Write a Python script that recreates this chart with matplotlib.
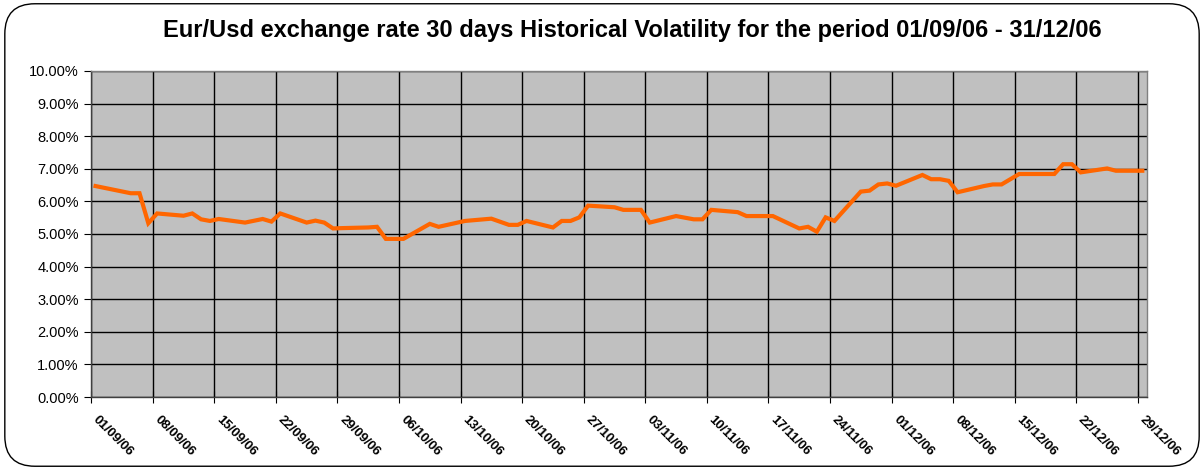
import matplotlib
matplotlib.use("Agg")
import matplotlib.pyplot as plt
import matplotlib.dates as mdates
import matplotlib.transforms as mtransforms
from matplotlib.patches import FancyBboxPatch
from matplotlib.ticker import FuncFormatter, MultipleLocator
from datetime import datetime, timedelta

plt.rcParams['font.family'] = ['Liberation Sans', 'DejaVu Sans']

dates = ["01/09/06", "05/09/06", "06/09/06", "07/09/06", "08/09/06", "11/09/06", "12/09/06",
         "13/09/06", "14/09/06", "15/09/06", "18/09/06", "20/09/06", "21/09/06", "22/09/06",
         "25/09/06", "26/09/06", "27/09/06", "28/09/06", "29/09/06", "02/10/06", "03/10/06",
         "04/10/06", "06/10/06", "09/10/06", "10/10/06", "13/10/06", "16/10/06", "18/10/06",
         "19/10/06", "20/10/06", "23/10/06", "24/10/06", "25/10/06", "26/10/06", "27/10/06",
         "30/10/06", "31/10/06", "02/11/06", "03/11/06", "06/11/06", "08/11/06", "09/11/06",
         "10/11/06", "13/11/06", "14/11/06", "17/11/06", "20/11/06", "21/11/06", "22/11/06",
         "23/11/06", "24/11/06", "27/11/06", "28/11/06", "29/11/06", "30/11/06", "01/12/06",
         "04/12/06", "05/12/06", "06/12/06", "07/12/06", "08/12/06", "11/12/06", "12/12/06",
         "13/12/06", "15/12/06", "19/12/06", "20/12/06", "21/12/06", "22/12/06", "25/12/06",
         "26/12/06", "29/12/06"]
volatility = [6.47, 6.25, 6.25, 5.33, 5.63, 5.56, 5.63,
              5.45, 5.40, 5.46, 5.35, 5.46, 5.38, 5.63,
              5.35, 5.41, 5.35, 5.17, 5.18, 5.20, 5.22,
              4.85, 4.85, 5.31, 5.22, 5.40, 5.47, 5.28,
              5.28, 5.40, 5.20, 5.40, 5.40, 5.51, 5.87,
              5.82, 5.74, 5.74, 5.35, 5.55, 5.45, 5.45,
              5.74, 5.67, 5.55, 5.55, 5.17, 5.22, 5.07,
              5.51, 5.40, 6.30, 6.33, 6.52, 6.55, 6.48,
              6.81, 6.68, 6.68, 6.63, 6.28, 6.47, 6.52,
              6.52, 6.84, 6.84, 7.14, 7.14, 6.89, 7.01,
              6.94, 6.94]
title = "Eur/Usd exchange rate 30 days Historical Volatility for the period 01/09/06 - 31/12/06"

dt = [datetime.strptime(d, "%d/%m/%y") + timedelta(hours=12) for d in dates]
start = datetime(2006, 9, 1)
ticks = [start + timedelta(days=7 * k) for k in range(18)]

fig = plt.figure(figsize=(12.04, 4.70), dpi=100)
fig.patch.set_facecolor("white")
border = FancyBboxPatch((0.004, 0.008), 0.992, 0.984, boxstyle="round,pad=0,rounding_size=0.025",
                        transform=fig.transFigure, facecolor="none", edgecolor="black",
                        linewidth=1.0, mutation_aspect=1204 / 470)
fig.patches.append(border)

ax = fig.add_axes([0.0757, 0.1553, 0.8767, 0.6937])
ax.set_facecolor("#C0C0C0")
ax.plot(dt, volatility, color="#FF6600", linewidth=3.0, solid_joinstyle="miter", zorder=3)

ax.set_xlim(start, start + timedelta(days=120))
ax.set_ylim(0, 10)
ax.yaxis.set_major_locator(MultipleLocator(1))
ax.yaxis.set_major_formatter(FuncFormatter(lambda v, p: f"{v:.2f}%"))
ax.set_xticks(ticks)
ax.xaxis.set_major_formatter(mdates.DateFormatter("%d/%m/%y"))

ax.grid(True, color="black", linewidth=1.0, zorder=1)
ax.set_axisbelow(True)
for s in ax.spines.values():
    s.set_color("#808080")
    s.set_linewidth(1.0)
ax.spines['left'].set_color("#404040")
ax.spines['bottom'].set_color("#404040")

ax.tick_params(axis='y', direction='out', length=5, labelsize=10.5, pad=4)
ax.tick_params(axis='x', direction='inout', length=8, labelsize=9.5, pad=8)
offset = mtransforms.ScaledTranslation(8 / 100, 0, fig.dpi_scale_trans)
for lbl in ax.get_xticklabels():
    lbl.set_rotation(-45)
    lbl.set_ha('left')
    lbl.set_va('top')
    lbl.set_rotation_mode('anchor')
    lbl.set_fontweight('bold')
    lbl.set_transform(lbl.get_transform() + offset)

fig.text(0.525, 0.935, title, ha='center', va='center', fontsize=17, fontweight='bold')

fig.savefig("out.png", dpi=100)
